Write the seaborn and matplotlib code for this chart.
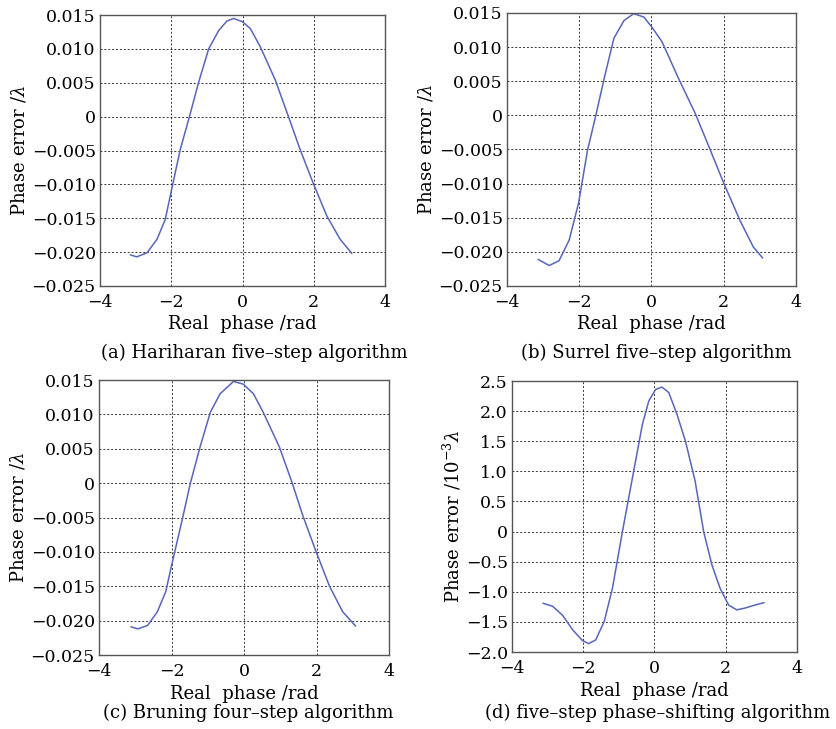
"""
plot.py
Phase error vs real phase for four phase-shifting algorithms (2x2 panels).
"""

import numpy as np
import pandas as pd
import matplotlib
matplotlib.use("Agg")
import matplotlib.pyplot as plt
import seaborn as sns

# ---- data ----
phase_a = [-3.15, -2.97, -2.68, -2.40, -2.17, -2.00, -1.75, -1.49, -1.23, -0.95, -0.67,
           -0.44, -0.25, 0.00, 0.22, 0.50, 0.92, 1.29, 1.62, 1.99, 2.37, 2.74, 3.07]
error_a = [-0.0204, -0.0207, -0.0201, -0.0181, -0.0152, -0.0110, -0.0049, 0.0000, 0.0051,
           0.0100, 0.0127, 0.0141, 0.0145, 0.0140, 0.0130, 0.0103, 0.0054, 0.0000,
           -0.0049, -0.0099, -0.0147, -0.0181, -0.0202]

phase_b = [-3.14, -2.83, -2.56, -2.28, -2.02, -1.77, -1.54, -1.31, -1.04, -0.76, -0.49,
           -0.21, 0.00, 0.29, 0.75, 1.21, 1.63, 1.99, 2.45, 2.82, 3.08]
error_b = [-0.0211, -0.0220, -0.0213, -0.0183, -0.0129, -0.0051, 0.0000, 0.0054, 0.0113,
           0.0139, 0.0149, 0.0144, 0.0130, 0.0108, 0.0054, 0.0003, -0.0051, -0.0098,
           -0.0154, -0.0193, -0.0209]

phase_c = [-3.12, -2.93, -2.66, -2.39, -2.16, -2.00, -1.70, -1.48, -1.20, -0.93, -0.66,
           -0.29, -0.02, 0.26, 0.53, 0.98, 1.33, 1.62, 1.99, 2.35, 2.72, 3.08]
error_c = [-0.0209, -0.0212, -0.0207, -0.0187, -0.0158, -0.0120, -0.0052, 0.0000, 0.0055,
           0.0103, 0.0130, 0.0148, 0.0144, 0.0130, 0.0103, 0.0052, 0.0000, -0.0047,
           -0.0100, -0.0149, -0.0187, -0.0208]

phase_d = [-3.13, -2.86, -2.58, -2.30, -2.02, -1.85, -1.65, -1.41, -1.18, -0.90, -0.62,
           -0.34, -0.16, 0.03, 0.21, 0.40, 0.63, 0.87, 1.14, 1.38, 1.61, 1.84, 2.08,
           2.31, 2.54, 2.82, 3.08]
error_d = [-1.19, -1.24, -1.39, -1.63, -1.81, -1.86, -1.80, -1.49, -0.94, 0.00, 0.89,
           1.78, 2.17, 2.36, 2.40, 2.31, 1.95, 1.50, 0.84, 0.00, -0.55, -0.94, -1.22,
           -1.30, -1.27, -1.22, -1.18]

x_ticks = [-4, -2, 0, 2, 4]
x_ticklabels = ["\u22124", "\u22122", "0", "2", "4"]

lam_ticks = [0.015, 0.010, 0.005, 0, -0.005, -0.010, -0.015, -0.020, -0.025]
lam_ticklabels = ["0.015", "0.010", "0.005", "0", "\u22120.005", "\u22120.010",
                  "\u22120.015", "\u22120.020", "\u22120.025"]

milli_ticks = [2.5, 2.0, 1.5, 1.0, 0.5, 0, -0.5, -1.0, -1.5, -2.0]
milli_ticklabels = ["2.5", "2.0", "1.5", "1.0", "0.5", "0", "\u22120.5", "\u22121.0",
                    "\u22121.5", "\u22122.0"]

captions = ["(a) Hariharan five\u2013step algorithm",
            "(b) Surrel five\u2013step algorithm",
            "(c) Bruning four\u2013step algorithm",
            "(d) five\u2013step phase\u2013shifting algorithm"]

# ---- style ----
sns.set_style("white")
plt.rcParams['font.family'] = ['DejaVu Serif']
plt.rcParams['mathtext.fontset'] = 'dejavuserif'
plt.rcParams['text.color'] = 'black'
plt.rcParams['axes.labelcolor'] = 'black'
plt.rcParams['xtick.color'] = 'black'
plt.rcParams['ytick.color'] = 'black'

LINE_COLOR = "#5566bb"

fig = plt.figure(figsize=(8.37, 7.29), dpi=100)

panels = [
    # rect, x, y, yticks, yticklabels, ylim, ylabel, caption position
    ([0.1195, 0.6077, 0.3405, 0.3717], phase_a, error_a, lam_ticks, lam_ticklabels,
     (-0.025, 0.015), r"Phase error /$\lambda$", (254, 353)),
    ([0.6057, 0.6077, 0.3453, 0.3745], phase_b, error_b, lam_ticks, lam_ticklabels,
     (-0.025, 0.015), r"Phase error /$\lambda$", (656, 353)),
    ([0.1183, 0.1015, 0.3465, 0.3772], phase_c, error_c, lam_ticks, lam_ticklabels,
     (-0.025, 0.015), r"Phase error /$\lambda$", (248, 713)),
    ([0.6117, 0.1056, 0.3405, 0.3717], phase_d, error_d, milli_ticks, milli_ticklabels,
     (-2.0, 2.5), r"Phase error /$10^{-3}\lambda$", (658, 713)),
]

for i, (rect, xs, ys, yt, ytl, ylim, ylabel, cap_xy) in enumerate(panels):
    ax = fig.add_axes(rect)
    df = pd.DataFrame({"phase": xs, "error": ys})
    sns.lineplot(data=df, x="phase", y="error", ax=ax, color=LINE_COLOR, linewidth=1.1,
                 solid_joinstyle="round", solid_capstyle="round")
    ax.set_xlim(-4, 4)
    ax.set_ylim(*ylim)
    ax.set_xticks(x_ticks)
    ax.set_xticklabels(x_ticklabels)
    ax.set_yticks(yt)
    ax.set_yticklabels(ytl)
    ax.tick_params(axis="y", labelsize=12.5, length=0, pad=3)
    ax.tick_params(axis="x", labelsize=12.5, length=0, pad=6)
    ax.grid(True, color="black", linestyle=(0, (2, 2)), linewidth=0.7, alpha=0.8)
    for sp in ax.spines.values():
        sp.set_color("#555555")
        sp.set_linewidth(1.0)
    ax.set_xlabel("Real  phase /rad", fontsize=13, labelpad=3)
    ax.set_ylabel(ylabel, fontsize=13, labelpad=2)
    fig.text(cap_xy[0] / 837, 1 - cap_xy[1] / 729, captions[i], fontsize=13,
             ha="center", va="center")

plt.savefig("out.png", dpi=100)
plt.close()
